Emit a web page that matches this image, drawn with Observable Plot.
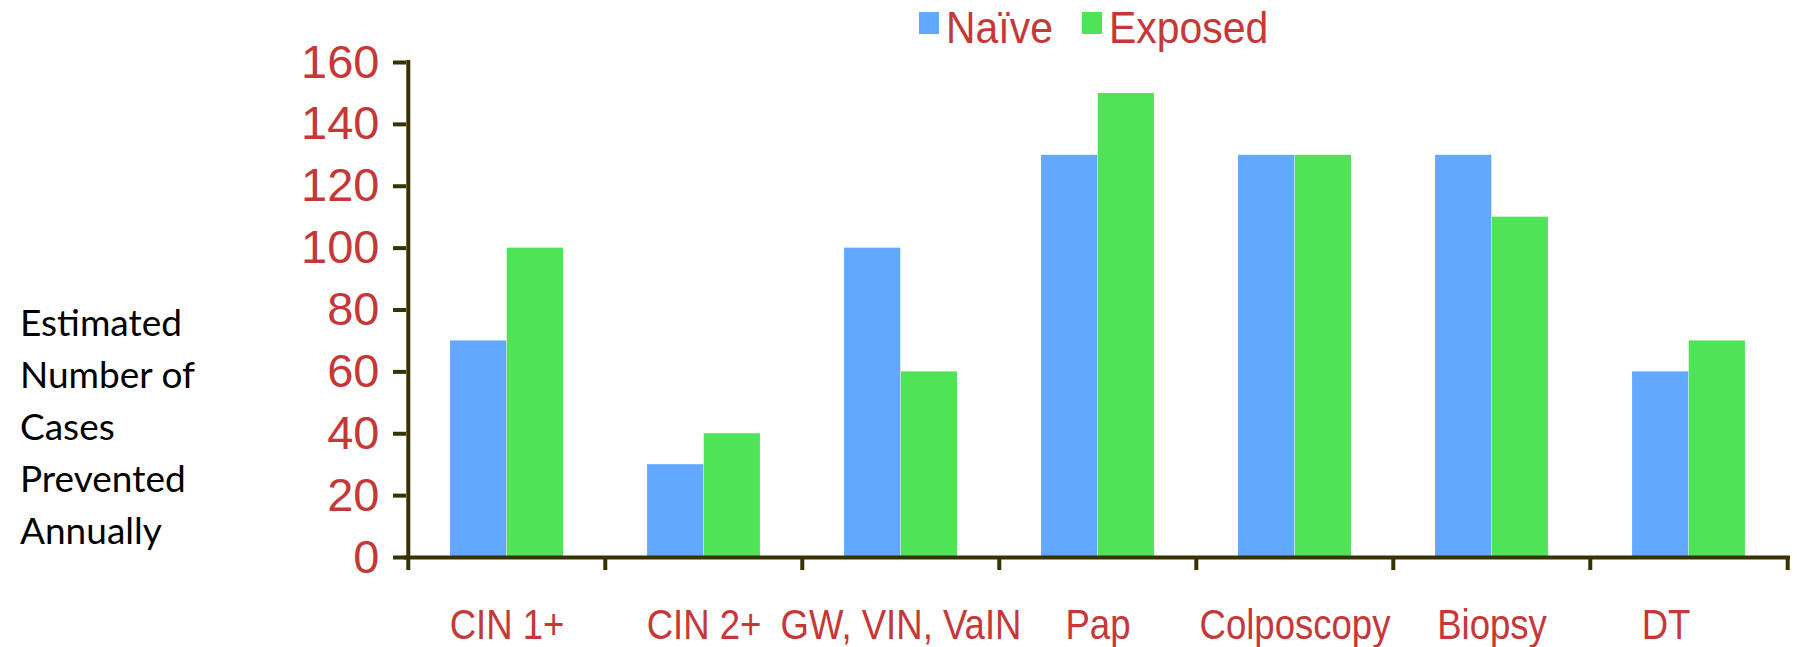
<!DOCTYPE html>
<html>
<head>
<meta charset="utf-8">
<script src="https://cdn.jsdelivr.net/npm/d3@7"></script>
<script src="https://cdn.jsdelivr.net/npm/@observablehq/plot@0.6"></script>
<style>
  body { margin: 0; background: #fff; }
  #wrap { position: relative; width: 1797px; height: 647px; overflow: hidden; background: #fff; }
  #chart { position: absolute; left: 0; top: 0; }
  #ytitle {
    position: absolute; left: 20px; top: 296px;
    font-family: Lato, "Open Sans", sans-serif; font-size: 37px; line-height: 52px; color: #000;
  }
  #legend {
    position: absolute; left: 919px; top: 6px; display: flex; align-items: flex-start;
    font-family: "Liberation Sans", Arial, sans-serif;
    font-size: 44px; line-height: 44px; color: #c83737;
  }
  #legend .item { display: flex; align-items: flex-start; margin-right: 29px; }
  #legend .sw { width: 20px; height: 22px; margin-top: 6px; margin-right: 7px; }
  #legend .txt { display: inline-block; transform-origin: left center; }
</style>
</head>
<body>
<div id="wrap">
  <div id="chart"></div>
  <div id="ytitle">Estimated<br>Number of<br>Cases<br>Prevented<br>Annually</div>
  <div id="legend"></div>
</div>
<script>
// Cases prevented annually, by outcome, for naïve and exposed groups
const categories = ["CIN 1+", "CIN 2+", "GW, VIN, VaIN", "Pap", "Colposcopy", "Biopsy", "DT"];
const naive   = [70, 30, 100, 130, 130, 130, 60];
const exposed = [100, 40, 60, 150, 130, 110, 70];
const seriesNames = ["Naïve", "Exposed"];
const yTicks = [0, 20, 40, 60, 80, 100, 120, 140, 160];

const colors = {"Naïve": "#63a8ff", "Exposed": "#4fe357"};
const red = "#c83737";
const axisColor = "#363300";
const sansFont = '"Liberation Sans", Arial, sans-serif';

const rows = categories.map((c, i) => ({category: c, naive: naive[i], exposed: exposed[i]}));

const width = 1797, height = 647;
const marginLeft = 406, marginRight = 9, marginTop = 62, marginBottom = 90;
const step = (width - marginLeft - marginRight) / categories.length;
const groupPad = 0.213;                 // empty space on each side of a pair, as a share of the band
const barW = (1 - 2 * groupPad) / 2;     // each bar's share of the band
const lastCategory = categories[categories.length - 1];

const labelStyle = {tickSize: 0, tickPadding: 51, fill: red, fontSize: 43, fontFamily: sansFont, label: null};

const chart = Plot.plot({
  width, height, marginLeft, marginRight, marginTop, marginBottom,
  style: {background: "transparent", overflow: "visible"},
  x: {type: "band", domain: categories, padding: 0},
  y: {domain: [0, 160], label: null},
  marks: [
    Plot.barY(rows, {
      x: "category", y: "naive", fill: colors["Naïve"],
      insetLeft: step * groupPad, insetRight: step * (1 - groupPad - barW)
    }),
    Plot.barY(rows, {
      x: "category", y: "exposed", fill: colors["Exposed"],
      insetLeft: step * (groupPad + barW), insetRight: step * groupPad
    }),
    // axis lines
    Plot.ruleY([0], {stroke: axisColor, strokeWidth: 4, strokeLinecap: "square"}),
    Plot.ruleX([categories[0]], {y1: 0, y2: 160, dx: -step / 2, stroke: axisColor, strokeWidth: 4, strokeLinecap: "square"}),
    // y ticks and labels
    Plot.axisY({ticks: yTicks, tickSize: 13, tickFormat: () => "", stroke: axisColor, strokeWidth: 4, label: null}),
    Plot.axisY({ticks: yTicks, tickSize: 0, tickPadding: 27, fill: red, fontSize: 47,
      fontFamily: sansFont, label: null}),
    // x ticks at the band boundaries
    Plot.axisX({tickSize: 13, tickFormat: () => "", dx: -step / 2, stroke: axisColor, strokeWidth: 4, label: null}),
    Plot.axisX({ticks: [lastCategory], tickSize: 13, tickFormat: () => "", dx: step / 2,
      stroke: axisColor, strokeWidth: 4, label: null}),
    // category labels (the last one sits a little left of its band centre)
    Plot.axisX({...labelStyle, ticks: categories.slice(0, -1)}),
    Plot.axisX({...labelStyle, ticks: [lastCategory], dx: -23})
  ]
});
document.getElementById("chart").appendChild(chart);

// narrow the category labels horizontally around their anchor
const categorySet = new Set(categories);
d3.select(chart).selectAll("text")
  .filter(function() { return categorySet.has(this.textContent); })
  .each(function() {
    const t = this.getAttribute("transform") || "";
    this.setAttribute("transform", `${t} scale(0.85,1)`);
  });

// legend
const legend = d3.select("#legend");
for (const s of seriesNames) {
  const item = legend.append("div").attr("class", "item");
  item.append("div").attr("class", "sw").style("background", colors[s]);
  const txt = item.append("span").attr("class", "txt").text(s);
  const w = txt.node().offsetWidth, k = 0.93;
  txt.style("transform", `scaleX(${k})`).style("margin-right", `${-w * (1 - k)}px`);
}
</script>
</body>
</html>
